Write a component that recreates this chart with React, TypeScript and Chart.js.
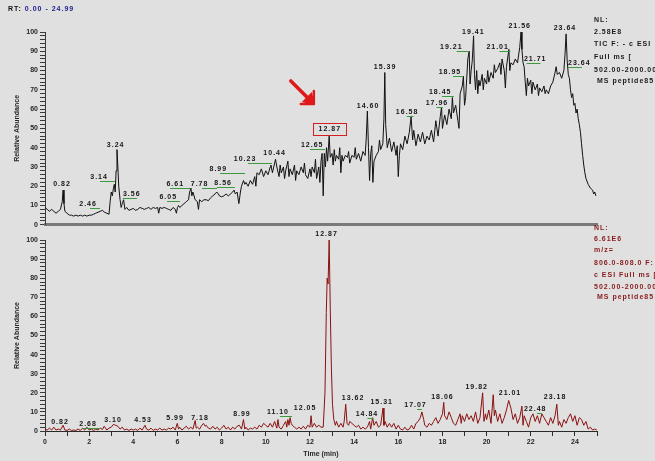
import React, { useEffect, useRef } from 'react';
import { Chart, registerables } from 'chart.js';

Chart.register(...registerables);

// Total ion chromatogram (top panel): [time (min), relative abundance]
const ticPoints: [number, number][] = [
  [0, 9], [0.1, 8], [0.2, 7], [0.3, 8], [0.4, 7], [0.5, 6], [0.6, 7], [0.7, 8], [0.78, 12], [0.82, 18], [0.86, 11], [0.9, 7],
  [1.0, 6], [1.1, 5], [1.2, 5], [1.3, 4.5], [1.4, 5], [1.5, 4.5], [1.6, 5], [1.7, 4.5], [1.8, 5], [1.9, 4.5], [2.0, 5],
  [2.1, 5], [2.2, 5.5], [2.3, 6], [2.4, 6.5], [2.5, 7], [2.6, 7.5], [2.7, 6.5], [2.8, 6], [2.9, 5.5], [2.95, 12], [3.0, 17],
  [3.05, 15], [3.1, 19], [3.14, 21], [3.18, 17], [3.22, 28], [3.26, 39], [3.3, 30], [3.34, 20], [3.4, 13], [3.45, 9],
  [3.5, 11], [3.56, 13], [3.62, 8], [3.7, 9], [3.8, 7.5], [3.9, 8], [4.0, 8.5], [4.1, 7.5], [4.2, 8], [4.3, 9], [4.4, 8.5],
  [4.5, 8], [4.6, 8.5], [4.7, 9], [4.8, 8], [4.9, 9], [5.0, 8.5], [5.1, 9], [5.15, 6], [5.2, 9], [5.3, 8.5], [5.4, 9],
  [5.5, 8.5], [5.6, 8], [5.7, 7.5], [5.8, 9], [5.9, 8], [5.95, 6], [6.0, 9], [6.05, 10], [6.1, 9], [6.2, 10], [6.3, 11],
  [6.4, 12], [6.5, 13], [6.55, 17], [6.61, 19], [6.65, 15], [6.7, 17], [6.8, 13], [6.9, 12], [6.95, 8], [7.0, 13],
  [7.1, 12], [7.2, 13], [7.3, 13], [7.4, 12.5], [7.5, 14], [7.6, 15], [7.7, 16], [7.78, 17], [7.85, 16], [7.9, 15],
  [8.0, 14.5], [8.1, 15], [8.2, 16], [8.3, 15], [8.4, 16], [8.5, 17], [8.56, 18], [8.62, 16], [8.7, 17], [8.78, 11],
  [8.85, 17], [8.9, 20], [8.99, 23], [9.05, 21], [9.1, 22], [9.2, 20], [9.3, 23], [9.4, 21], [9.5, 25], [9.55, 20],
  [9.6, 27], [9.7, 26], [9.8, 29], [9.9, 25], [10.0, 28], [10.1, 26], [10.2, 30], [10.23, 31], [10.3, 27], [10.4, 32],
  [10.44, 34], [10.5, 30], [10.6, 25], [10.65, 31], [10.7, 27], [10.8, 30], [10.85, 24], [10.9, 28], [11.0, 33],
  [11.05, 25], [11.1, 29], [11.2, 26], [11.3, 31], [11.35, 23], [11.4, 28], [11.5, 26], [11.6, 30], [11.7, 27],
  [11.75, 32], [11.8, 26], [11.9, 24], [12.0, 29], [12.05, 25], [12.1, 30], [12.2, 27], [12.25, 34], [12.3, 24],
  [12.4, 30], [12.45, 22], [12.5, 33], [12.55, 37], [12.6, 15], [12.65, 37], [12.7, 30], [12.75, 40], [12.8, 33],
  [12.87, 46], [12.92, 35], [13.0, 37], [13.05, 31], [13.1, 39], [13.15, 33], [13.2, 36], [13.3, 34], [13.35, 40],
  [13.4, 27], [13.45, 36], [13.5, 33], [13.6, 36], [13.7, 35], [13.75, 38], [13.8, 32], [13.9, 36], [14.0, 35],
  [14.05, 40], [14.1, 34], [14.2, 37], [14.3, 33], [14.4, 38], [14.5, 36], [14.55, 45], [14.6, 59], [14.65, 40],
  [14.7, 23], [14.75, 37], [14.8, 41], [14.85, 22], [14.9, 33], [15.0, 36], [15.1, 38], [15.15, 44], [15.2, 39],
  [15.3, 42], [15.35, 55], [15.39, 79], [15.43, 52], [15.5, 40], [15.6, 45], [15.7, 38], [15.8, 43], [15.9, 36],
  [15.95, 41], [16.0, 25], [16.05, 36], [16.1, 42], [16.2, 39], [16.3, 46], [16.4, 42], [16.5, 48], [16.58, 56],
  [16.65, 44], [16.7, 49], [16.8, 41], [16.9, 47], [17.0, 43], [17.1, 48], [17.2, 42], [17.3, 46], [17.4, 44],
  [17.5, 49], [17.6, 43], [17.7, 54], [17.8, 46], [17.9, 56], [17.96, 61], [18.0, 50], [18.1, 57], [18.2, 52],
  [18.3, 60], [18.4, 55], [18.45, 66], [18.5, 58], [18.6, 62], [18.7, 54], [18.75, 50], [18.8, 68], [18.9, 72],
  [18.95, 77], [19.0, 62], [19.05, 66], [19.1, 76], [19.15, 86], [19.21, 90], [19.25, 73], [19.3, 80], [19.35, 85],
  [19.41, 98], [19.45, 78], [19.5, 70], [19.55, 80], [19.6, 68], [19.65, 75], [19.7, 72], [19.8, 78], [19.85, 70],
  [19.9, 76], [20.0, 73], [20.05, 80], [20.1, 74], [20.2, 79], [20.3, 76], [20.35, 83], [20.4, 79], [20.5, 81],
  [20.6, 84], [20.65, 78], [20.7, 86], [20.8, 80], [20.85, 71], [20.9, 82], [21.01, 91], [21.05, 80], [21.1, 84],
  [21.2, 83], [21.3, 86], [21.4, 84], [21.5, 92], [21.56, 100], [21.6, 91], [21.65, 84], [21.7, 82], [21.75, 74],
  [21.8, 67], [21.85, 76], [21.9, 72], [22.0, 75], [22.05, 68], [22.1, 74], [22.2, 70], [22.3, 73], [22.35, 67],
  [22.4, 71], [22.5, 69], [22.6, 72], [22.65, 68], [22.7, 70], [22.8, 68], [22.9, 72], [23.0, 74], [23.1, 79],
  [23.15, 82], [23.2, 78], [23.3, 79], [23.4, 76], [23.5, 80], [23.55, 88], [23.6, 99], [23.65, 85], [23.7, 78],
  [23.75, 76], [23.8, 70], [23.85, 66], [23.9, 68], [23.95, 62], [24.0, 63], [24.05, 58], [24.1, 60], [24.15, 55],
  [24.2, 52], [24.25, 48], [24.3, 42], [24.35, 36], [24.4, 31], [24.45, 27], [24.5, 24], [24.6, 21], [24.7, 19],
  [24.8, 18], [24.85, 16], [24.9, 17], [24.95, 15],
];

// Extracted ion chromatogram m/z 806-808 (bottom panel)
const eicPoints: [number, number][] = [
  [0, 1], [0.1, 0.5], [0.2, 1.5], [0.3, 0.5], [0.4, 2], [0.5, 0.5], [0.6, 1], [0.7, 0.5], [0.82, 3], [0.9, 0.5],
  [1.0, 0.3], [1.1, 1], [1.2, 0.3], [1.3, 0.5], [1.4, 0.3], [1.5, 1], [1.6, 0.3], [1.7, 1.5], [1.8, 0.5], [1.9, 2],
  [2.0, 0.5], [2.1, 1], [2.2, 0.3], [2.3, 1], [2.4, 0.5], [2.5, 1.5], [2.6, 0.8], [2.68, 2.5], [2.8, 0.5], [2.9, 1.5],
  [3.0, 2], [3.1, 3.5], [3.2, 3], [3.3, 2.5], [3.4, 1], [3.5, 2], [3.6, 0.5], [3.7, 1], [3.8, 0.3], [3.9, 1], [4.0, 0.5],
  [4.1, 1], [4.2, 0.3], [4.3, 1.5], [4.4, 0.5], [4.53, 3], [4.6, 1], [4.7, 0.5], [4.8, 1.5], [4.9, 0.3], [5.0, 1],
  [5.1, 0.5], [5.2, 1.5], [5.3, 0.5], [5.4, 1], [5.5, 0.5], [5.6, 1.5], [5.7, 1], [5.8, 2], [5.9, 0.5], [5.99, 4],
  [6.05, 1], [6.1, 2], [6.2, 0.5], [6.3, 1.5], [6.4, 2.5], [6.5, 1], [6.6, 2], [6.7, 1], [6.8, 5.5], [6.85, 1.5],
  [6.9, 2], [7.0, 1], [7.1, 3], [7.18, 4], [7.25, 2.5], [7.3, 3], [7.4, 1.5], [7.5, 1], [7.6, 2.5], [7.7, 1], [7.8, 2],
  [7.9, 0.5], [8.0, 1.5], [8.1, 3], [8.2, 1], [8.3, 2], [8.4, 0.5], [8.5, 2], [8.6, 1], [8.7, 2.5], [8.8, 3], [8.9, 1],
  [8.99, 6], [9.05, 1], [9.1, 2], [9.2, 0.5], [9.3, 1.5], [9.4, 1], [9.5, 2], [9.6, 1], [9.7, 3], [9.8, 2], [9.9, 4],
  [10.0, 3], [10.1, 2], [10.2, 4], [10.3, 2], [10.4, 5], [10.5, 1.5], [10.55, 6], [10.6, 2], [10.7, 1], [10.8, 3],
  [10.9, 5], [10.95, 2], [11.0, 6], [11.05, 3], [11.1, 7], [11.15, 4], [11.2, 3], [11.3, 2], [11.4, 1], [11.5, 2],
  [11.6, 1], [11.7, 2.5], [11.8, 1], [11.9, 3], [12.0, 2], [12.05, 8], [12.1, 2], [12.2, 4], [12.3, 2], [12.4, 3],
  [12.5, 2], [12.6, 2], [12.68, 20], [12.74, 62], [12.78, 80], [12.82, 77], [12.87, 100], [12.92, 64], [12.97, 33],
  [13.02, 14], [13.08, 6], [13.15, 3], [13.2, 5], [13.3, 2], [13.4, 4], [13.5, 2], [13.55, 5], [13.62, 14], [13.68, 4],
  [13.75, 3], [13.8, 5], [13.9, 4], [14.0, 3], [14.1, 2], [14.2, 3], [14.3, 1], [14.4, 2], [14.5, 1], [14.6, 2],
  [14.7, 5], [14.75, 1], [14.84, 7], [14.9, 3], [15.0, 5], [15.1, 2], [15.2, 3], [15.31, 12], [15.35, 3], [15.4, 5],
  [15.5, 2], [15.6, 4], [15.7, 2], [15.8, 4], [15.9, 1], [16.0, 3], [16.1, 1], [16.2, 0.5], [16.3, 2], [16.4, 0.5],
  [16.5, 1], [16.6, 3], [16.7, 1], [16.8, 4], [16.9, 5], [17.0, 7], [17.07, 10], [17.15, 6], [17.2, 3], [17.3, 2],
  [17.4, 4], [17.5, 3], [17.6, 5], [17.7, 7], [17.8, 4], [17.9, 6], [18.0, 9], [18.06, 15], [18.1, 8], [18.2, 6],
  [18.3, 10], [18.4, 7], [18.5, 4], [18.6, 3], [18.7, 6], [18.8, 9], [18.85, 4], [18.9, 8], [19.0, 5], [19.1, 9],
  [19.2, 6], [19.3, 8], [19.4, 5], [19.5, 10], [19.6, 4], [19.7, 7], [19.82, 20], [19.88, 5], [19.95, 9], [20.0, 6],
  [20.1, 11], [20.2, 4], [20.3, 19], [20.35, 8], [20.4, 11], [20.5, 5], [20.6, 9], [20.7, 4], [20.8, 7], [20.9, 11],
  [21.0, 16], [21.05, 14], [21.1, 12], [21.2, 6], [21.3, 9], [21.4, 4], [21.5, 7], [21.6, 13], [21.65, 3], [21.7, 8],
  [21.8, 5], [21.9, 2], [22.0, 7], [22.1, 9], [22.2, 5], [22.3, 8], [22.4, 4], [22.5, 9], [22.6, 7], [22.7, 5],
  [22.8, 3], [22.9, 7], [23.0, 4], [23.1, 8], [23.18, 14], [23.25, 3], [23.3, 5], [23.4, 2], [23.5, 6], [23.6, 4],
  [23.7, 7], [23.8, 9], [23.9, 5], [24.0, 8], [24.1, 3], [24.2, 7], [24.3, 6], [24.4, 3], [24.5, 5], [24.6, 1],
  [24.7, 2], [24.8, 0.5], [24.9, 1], [24.99, 0.5],
];

// Peak annotations: [text, label time, label height, green start, green end]
type Peak = [string, number, number, number | null, number | null];
const ticPeaks: Peak[] = [
  ['0.82', 0.77, 21, null, null],
  ['2.46', 1.95, 10.8, 2.04, 2.49],
  ['3.14', 2.45, 24.6, 2.49, 3.17],
  ['3.24', 3.2, 41.5, null, null],
  ['3.56', 3.93, 16, 3.53, 4.17],
  ['6.05', 5.58, 14.3, 5.53, 6.11],
  ['6.61', 5.9, 21, 5.66, 6.57],
  ['7.78', 7.0, 21, 7.11, 7.79],
  ['8.56', 8.07, 21.5, 7.79, 8.6],
  ['8.99', 7.85, 29, 7.93, 9.06],
  ['10.23', 9.06, 34, 9.19, 10.28],
  ['10.44', 10.4, 37.4, null, null],
  ['12.65', 12.1, 41.5, 12.0, 12.68],
  ['12.87', 12.9, 49.7, null, null],
  ['14.60', 14.63, 61.5, null, null],
  ['15.39', 15.4, 82, null, null],
  ['16.58', 16.4, 58.5, 16.4, 16.67],
  ['17.96', 17.75, 63, 17.75, 18.0],
  ['18.45', 17.9, 69, 18.0, 18.5],
  ['18.95', 18.34, 79, 18.5, 18.9],
  ['19.21', 18.4, 92, 18.66, 19.16],
  ['19.41', 19.4, 100, null, null],
  ['21.01', 20.5, 92, 20.6, 21.06],
  ['21.56', 21.5, 103, null, null],
  ['21.71', 22.2, 86, 21.83, 22.42],
  ['23.64', 23.55, 102, null, null],
  ['23.64', 24.2, 84, 23.7, 24.3],
];
const highlightedPeak = '12.87';

const eicPeaks: Peak[] = [
  ['0.82', 0.68, 4.7, null, null],
  ['2.68', 1.95, 3.7, 1.72, 2.49],
  ['3.10', 3.08, 5.8, null, null],
  ['4.53', 4.44, 5.8, null, null],
  ['5.99', 5.89, 6.8, null, null],
  ['7.18', 7.02, 6.8, null, null],
  ['8.99', 8.92, 9, null, null],
  ['11.10', 10.55, 10, 10.64, 11.19],
  ['12.05', 11.78, 12, null, null],
  ['12.87', 12.75, 103, null, null],
  ['13.62', 13.95, 17, null, null],
  ['14.84', 14.58, 9, 14.6, 14.86],
  ['15.31', 15.25, 15, null, null],
  ['17.07', 16.78, 13.6, 16.85, 17.07],
  ['18.06', 18.0, 18, null, null],
  ['19.82', 19.55, 23, null, null],
  ['21.01', 21.06, 20, null, null],
  ['22.48', 22.2, 11.5, 22.28, 22.5],
  ['23.18', 23.1, 18, null, null],
];

const yMajorTicks = [0, 10, 20, 30, 40, 50, 60, 70, 80, 90, 100];
const xLabelTicks = [0, 2, 4, 6, 8, 10, 12, 14, 16, 18, 20, 22, 24];

const ticInfo = ['NL:', '2.58E8', 'TIC F: - c ESI', 'Full ms [', '502.00-2000.00]', ' MS peptide85'];
const eicInfo = ['NL:', '6.61E6', 'm/z=', '806.0-808.0 F:', 'c ESI Full ms [', '502.00-2000.00]', ' MS peptide85'];

const FONT = '"Liberation Sans", Arial, sans-serif';
const tickFont = { family: FONT, size: 7, weight: 'bold' as const };

function peakPlugin(peaks: Peak[], highlight: string | null) {
  return {
    id: 'peaks',
    afterDatasetsDraw(chart: any) {
      const { ctx, scales } = chart;
      const x = scales.x;
      const y = scales.y;
      ctx.save();
      ctx.font = `bold 7px ${FONT}`;
      (ctx as any).letterSpacing = '1px';
      ctx.textAlign = 'center';
      ctx.textBaseline = 'middle';
      for (const [text, t, v, g0, g1] of peaks) {
        const px = x.getPixelForValue(t);
        const py = y.getPixelForValue(v);
        ctx.fillStyle = '#151515';
        ctx.fillText(text, px, py);
        if (g0 !== null && g1 !== null) {
          ctx.strokeStyle = '#3c9a3c';
          ctx.lineWidth = 1;
          ctx.beginPath();
          ctx.moveTo(x.getPixelForValue(g0), Math.round(py + 4) + 0.5);
          ctx.lineTo(x.getPixelForValue(g1), Math.round(py + 4) + 0.5);
          ctx.stroke();
        }
        if (highlight && text === highlight) {
          ctx.strokeStyle = '#d42020';
          ctx.lineWidth = 1;
          ctx.strokeRect(Math.round(px - 17) + 0.5, Math.round(py - 6) + 0.5, 33, 12);
          // arrow pointing at the highlighted label
          const tipX = px - 16;
          const tipY = py - 25;
          ctx.strokeStyle = '#e01818';
          ctx.fillStyle = '#e01818';
          ctx.lineWidth = 3.5;
          ctx.lineCap = 'round';
          ctx.beginPath();
          ctx.moveTo(tipX - 23, tipY - 23);
          ctx.lineTo(tipX - 3, tipY - 3);
          ctx.stroke();
          ctx.beginPath();
          ctx.moveTo(tipX + 1, tipY + 1);
          ctx.lineTo(tipX - 12, tipY - 2);
          ctx.lineTo(tipX - 2, tipY - 12);
          ctx.closePath();
          ctx.fill();
          ctx.lineWidth = 2.5;
          ctx.beginPath();
          ctx.moveTo(tipX, tipY);
          ctx.lineTo(tipX - 13, tipY);
          ctx.moveTo(tipX, tipY);
          ctx.lineTo(tipX, tipY - 13);
          ctx.stroke();
        }
      }
      ctx.restore();
    },
  };
}

function yAxis() {
  return {
    min: 0,
    max: 100,
    afterFit(s: any) { s.width = 45; },
    ticks: {
      stepSize: 2,
      autoSkip: false,
      callback: (v: any) => (yMajorTicks.includes(Number(v)) ? String(v) : ''),
      font: tickFont,
      color: '#262626',
      padding: 2,
    },
    grid: { drawOnChartArea: false, drawTicks: true, tickLength: 5, color: '#3a3a3a' },
    border: { display: true, color: '#3a3a3a', width: 1 },
    title: {
      display: true,
      text: 'Relative Abundance',
      font: tickFont,
      color: '#262626',
      padding: { top: 13, bottom: 0 },
    },
  };
}

function TopChart() {
  const ref = useRef<HTMLCanvasElement>(null);
  useEffect(() => {
    const chart = new Chart(ref.current!, {
      type: 'line',
      data: {
        datasets: [{
          data: ticPoints.map(([x, y]) => ({ x, y })),
          borderColor: '#111111',
          borderWidth: 1,
          pointRadius: 0,
          tension: 0,
          fill: false,
        }],
      },
      options: {
        animation: false,
        responsive: false,
        maintainAspectRatio: false,
        events: [],
        layout: { padding: { left: 0, right: 58, top: 32, bottom: 0 } },
        plugins: { legend: { display: false }, tooltip: { enabled: false } },
        scales: {
          x: {
            type: 'linear',
            min: 0,
            max: 25,
            afterFit(s: any) { s.height = 4; },
            ticks: { display: false },
            grid: { display: false },
            border: { display: true, color: '#7a7a7a', width: 3 },
          },
          y: yAxis() as any,
        },
      },
      plugins: [peakPlugin(ticPeaks, highlightedPeak)],
    });
    return () => chart.destroy();
  }, []);
  return <canvas ref={ref} width={655} height={231} style={{ position: 'absolute', left: 0, top: 0, width: 655, height: 231 }} />;
}

function BottomChart() {
  const ref = useRef<HTMLCanvasElement>(null);
  useEffect(() => {
    const chart = new Chart(ref.current!, {
      type: 'line',
      data: {
        datasets: [{
          data: eicPoints.map(([x, y]) => ({ x, y })),
          borderColor: '#8a1010',
          borderWidth: 1,
          pointRadius: 0,
          tension: 0,
          fill: false,
        }],
      },
      options: {
        animation: false,
        responsive: false,
        maintainAspectRatio: false,
        events: [],
        layout: { padding: { left: 0, right: 58, top: 9, bottom: 0 } },
        plugins: { legend: { display: false }, tooltip: { enabled: false } },
        scales: {
          x: {
            type: 'linear',
            min: 0,
            max: 25,
            afterFit(s: any) { s.height = 30; },
            ticks: {
              stepSize: 1,
              autoSkip: false,
              maxRotation: 0,
              callback: (v: any) => (xLabelTicks.includes(Number(v)) ? String(v) : ''),
              font: tickFont,
              color: '#262626',
              padding: 2,
            },
            grid: { drawOnChartArea: false, drawTicks: true, tickLength: 5, color: '#2a2a2a' },
            border: { display: true, color: '#2a2a2a', width: 1 },
            title: {
              display: true,
              text: 'Time (min)',
              font: tickFont,
              color: '#262626',
              padding: { top: 0, bottom: 3 },
            },
          },
          y: yAxis() as any,
        },
      },
      plugins: [peakPlugin(eicPeaks, null)],
    });
    return () => chart.destroy();
  }, []);
  return <canvas ref={ref} width={655} height={230} style={{ position: 'absolute', left: 0, top: 231, width: 655, height: 230 }} />;
}

const textStyle: React.CSSProperties = {
  position: 'absolute',
  font: `bold 7px ${FONT}`,
  letterSpacing: '1px',
  lineHeight: '8px',
  whiteSpace: 'pre',
};

export default function App() {
  return (
    <div style={{ position: 'fixed', left: 0, top: 0, width: 655, height: 461, background: '#e0e0e0', overflow: 'hidden' }}>
      <TopChart />
      <BottomChart />
      <div style={{ ...textStyle, left: 8, top: 5, color: '#111' }}>
        RT: <span style={{ color: '#1c1c8a' }}>0.00 - 24.99</span>
      </div>
      {ticInfo.map((line, i) => (
        <div key={'t' + i} style={{ ...textStyle, left: 594, top: [16, 28, 40, 53, 66, 77][i], color: '#1a1a1a' }}>{line}</div>
      ))}
      {eicInfo.map((line, i) => (
        <div key={'e' + i} style={{ ...textStyle, left: 594, top: [224, 235, 246, 259, 271, 283, 293][i], color: '#8a1a1a' }}>{line}</div>
      ))}
    </div>
  );
}
